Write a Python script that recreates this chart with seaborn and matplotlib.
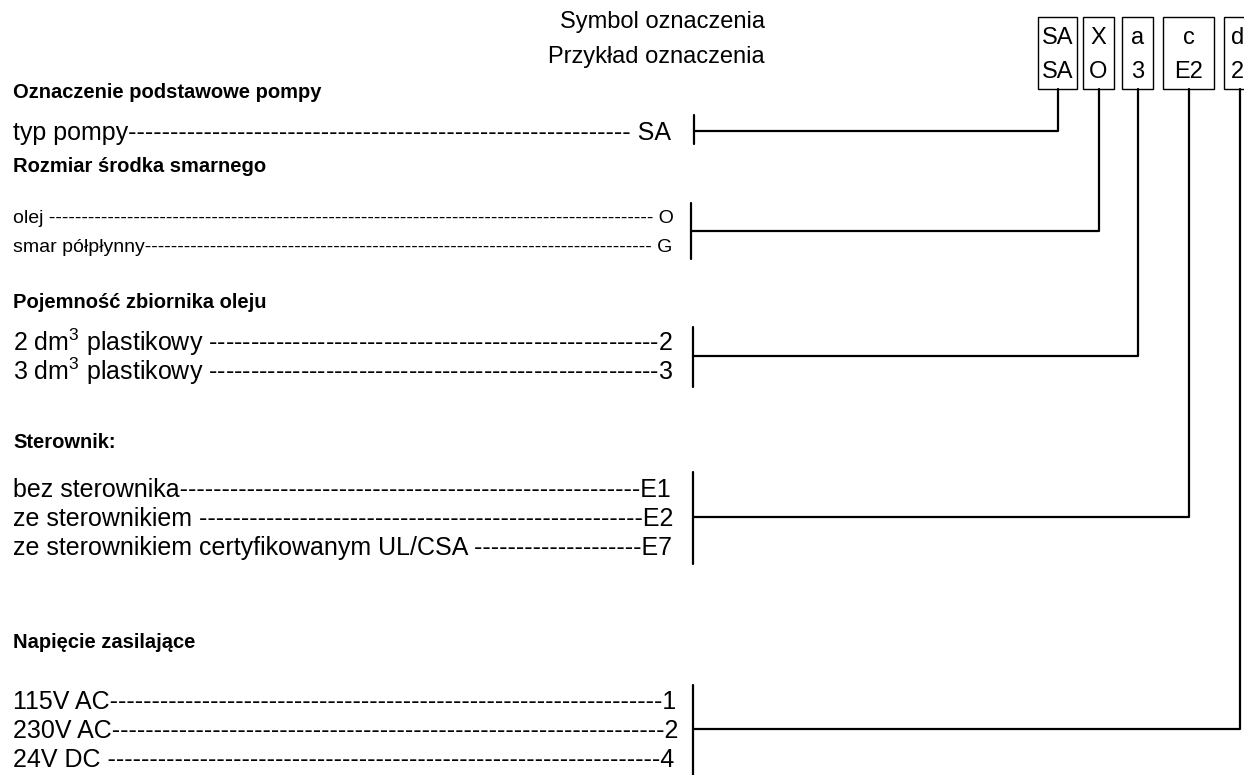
import matplotlib
matplotlib.use("Agg")
import matplotlib.pyplot as plt
import seaborn as sns
from matplotlib.patches import Rectangle

# ---------------- data (text content) ----------------
title_lines = ["Symbol oznaczenia", "Przykład oznaczenia"]
box_symbols = ["SA", "X", "a", "c", "d"]
box_examples = ["SA", "O", "3", "E2", "2"]
section_titles = ["Oznaczenie podstawowe pompy", "Rozmiar środka smarnego",
                  "Pojemność zbiornika oleju", "Sterownik:", "Napięcie zasilające"]
labels_pump = ["typ pompy"]
codes_pump = [" SA"]
labels_lube = ["olej ", "smar półpłynny"]
codes_lube = [" O", " G"]
labels_tank = ["2 dm$^3$ plastikowy ", "3 dm$^3$ plastikowy "]
codes_tank = ["2", "3"]
labels_ctrl = ["bez sterownika", "ze sterownikiem ", "ze sterownikiem certyfikowanym UL/CSA "]
codes_ctrl = ["E1", "E2", "E7"]
labels_volt = ["115V AC", "230V AC", "24V DC "]
codes_volt = ["1", "2", "4"]

# ---------------- layout ----------------
W, H = 1244, 775
sns.set_theme(style="white")
FONT = ["Liberation Sans", "DejaVu Sans"]
plt.rcParams["font.family"] = FONT
plt.rcParams["mathtext.fontset"] = "custom"
plt.rcParams["mathtext.rm"] = "Liberation Sans"
plt.rcParams["mathtext.it"] = "Liberation Sans:italic"
plt.rcParams["mathtext.bf"] = "Liberation Sans:bold"

fig = plt.figure(figsize=(W / 100, H / 100), dpi=100)
ax = fig.add_axes([0, 0, 1, 1])
ax.set_xlim(0, W)
ax.set_ylim(H, 0)
ax.axis("off")
renderer = fig.canvas.get_renderer()

LEFT = 13
BODY = 18
HEAD = 14.5
BOX_TOP, BOX_BOT = 17, 89
box_x = [(1038, 1077), (1083, 1114), (1122, 1153), (1163, 1214), (1224, 1256)]

sections = [
    dict(labels=labels_pump, codes=codes_pump, head_y=93, rows_y=[131], code_x=674,
         br_x=694, br_y=(115, 144), conn_y=131, size=BODY),
    dict(labels=labels_lube, codes=codes_lube, head_y=167, rows_y=[216, 245], code_x=675,
         br_x=691, br_y=(203, 259), conn_y=231, size=14),
    dict(labels=labels_tank, codes=codes_tank, head_y=303, rows_y=[342, 371], code_x=675,
         br_x=693, br_y=(327, 387), conn_y=356, size=BODY),
    dict(labels=labels_ctrl, codes=codes_ctrl, head_y=442, rows_y=[488, 517, 546], code_x=672,
         br_x=693, br_y=(472, 564), conn_y=517, size=BODY),
    dict(labels=labels_volt, codes=codes_volt, head_y=642, rows_y=[700, 729, 758], code_x=675,
         br_x=693, br_y=(685, 775), conn_y=729, size=BODY),
]

# titles (right aligned)
for txt, y in zip(title_lines, [22, 57]):
    ax.text(765, y, txt, ha="right", va="center", fontsize=17, color="black")

# boxes with symbols
for (x0, x1), s, e in zip(box_x, box_symbols, box_examples):
    ax.add_patch(Rectangle((x0, BOX_TOP), x1 - x0, BOX_BOT - BOX_TOP, fill=False,
                           edgecolor="black", lw=1.0, clip_on=False))
    if x1 > W:  # box cut by the right edge: keep its text inside the picture
        tx, ha = x0 + 7, "left"
    else:
        tx, ha = (x0 + x1) / 2, "center"
    ax.text(tx, 38, s, ha=ha, va="center", fontsize=17, color="black")
    ax.text(tx, 72, e, ha=ha, va="center", fontsize=17, color="black")


def fill_row(y, label, code, x_end, size):
    t = ax.text(LEFT, y, label + code, ha="left", va="baseline", fontsize=size, color="black")
    best_n, best_d = 0, 1e9
    for n in range(0, 140):
        t.set_text(label + "-" * n + code)
        x1 = t.get_window_extent(renderer).x1
        d = abs(x1 - x_end)
        if d < best_d:
            best_n, best_d = n, d
        if x1 > x_end + 10:
            break
    t.set_text(label + "-" * best_n + code)


for sec, title, (bx0, bx1) in zip(sections, section_titles, box_x):
    ax.text(LEFT, sec["head_y"], title, ha="left", va="center", fontsize=HEAD,
            fontweight="bold", color="black")
    cap = 0.36 * sec["size"] * 100 / 72  # half cap-height in px -> baseline offset
    for y, lab, code in zip(sec["rows_y"], sec["labels"], sec["codes"]):
        fill_row(y + cap, lab, code, sec["code_x"], sec["size"])
    cx = (bx0 + bx1) / 2
    # bracket
    sns.lineplot(x=[sec["br_x"], sec["br_x"]], y=list(sec["br_y"]), ax=ax, color="black",
                 lw=1.6, sort=False, estimator=None)
    # connector to box
    sns.lineplot(x=[sec["br_x"], cx, cx], y=[sec["conn_y"], sec["conn_y"], BOX_BOT], ax=ax,
                 color="black", lw=1.6, sort=False, estimator=None)

ax.set_xlim(0, W)
ax.set_ylim(H, 0)
ax.axis("off")
fig.savefig("out.png", dpi=100, facecolor="white")
